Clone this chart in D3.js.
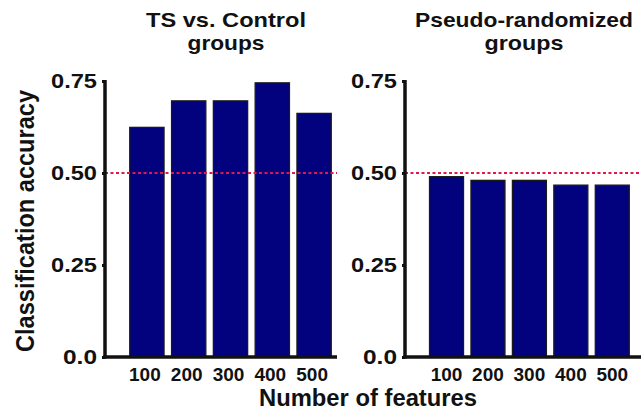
<!DOCTYPE html>
<html><head><meta charset="utf-8">
<script src="https://cdn.jsdelivr.net/npm/d3@7"></script>
<style>body{margin:0;background:#fff}svg{display:block}text{font-family:"Liberation Sans",Arial,sans-serif;font-weight:bold;fill:#111}</style>
</head><body>
<svg id="c" width="641" height="412"></svg>
<script>
const categories = ["100","200","300","400","500"];
const tsControl = [0.624, 0.696, 0.696, 0.745, 0.662];
const pseudo = [0.490, 0.480, 0.480, 0.467, 0.467];
const yTicks = [0, 0.25, 0.5, 0.75];
const yTickLabels = ["0.0","0.25","0.50","0.75"];
const chance = 0.5;
const titles = [["TS vs. Control","groups"],["Pseudo-randomized","groups"]];
const series = [tsControl, pseudo];

const svg = d3.select("#c");
const y = d3.scaleLinear().domain([0,0.75]).range([357,81]);
const panels = [
  {ax:105, xEnd:337, b0:126, b1:335, lineEnd:337, tc:226, tw:[160,77], lx:-2},
  {ax:405, xEnd:641, b0:425.8, b1:633, lineEnd:641, tc:524, tw:[218,79], lx:0}
];
panels.forEach((p,i)=>{
  const g = svg.append("g");
  const x = d3.scaleBand().domain(categories).range([p.b0,p.b1]).paddingInner(0.18).paddingOuter(0.09);
  g.selectAll("rect").data(series[i]).join("rect")
    .attr("x",(d,j)=>x(categories[j])).attr("width",x.bandwidth())
    .attr("y",d=>y(d)).attr("height",d=>y(0)-y(d))
    .attr("fill","#02027e").attr("stroke","#1a1a1a").attr("stroke-width",1.3);
  g.append("line").attr("x1",p.ax).attr("x2",p.lineEnd).attr("y1",y(chance)).attr("y2",y(chance))
    .attr("stroke","#e5164e").attr("stroke-width",2).attr("stroke-dasharray","3,2.5");
  const ya = d3.axisLeft(y).tickValues(yTicks).tickFormat((d,k)=>yTickLabels[k]).tickSize(3).tickPadding(5);
  const yg = g.append("g").attr("transform",`translate(${p.ax},0)`).call(ya);
  yg.select(".domain").remove();
  yg.selectAll(".tick line").attr("stroke","#111").attr("stroke-width",3);
  yg.selectAll(".tick text").style("font-size","20px").attr("fill","#111").attr("dy","0.34em")
    .attr("textLength",(d,k)=>yTickLabels[k].length===3?34:46).attr("lengthAdjust","spacingAndGlyphs");
  g.append("line").attr("x1",p.ax).attr("x2",p.ax).attr("y1",y(0.75)-1).attr("y2",y(0)+1.5).attr("stroke","#111").attr("stroke-width",3.5);
  const xa = d3.axisBottom(x).tickSize(0).tickPadding(11);
  const xg = g.append("g").attr("transform",`translate(0,${y(0)})`).call(xa);
  xg.select(".domain").remove();
  xg.selectAll(".tick text").style("font-size","19px").attr("fill","#111").attr("dx",p.lx).attr("dy","0.68em");
  g.append("line").attr("x1",p.ax-1.75).attr("x2",p.xEnd).attr("y1",y(0)).attr("y2",y(0)).attr("stroke","#111").attr("stroke-width",3.5);
  titles[i].forEach((t,k)=>{
    g.append("text").attr("x",p.tc).attr("y",27+k*23.3).attr("text-anchor","middle").style("font-size","21px")
      .attr("textLength",p.tw[k]).attr("lengthAdjust","spacingAndGlyphs").text(t);
  });
});
svg.append("text").attr("x",368).attr("y",406).attr("text-anchor","middle").style("font-size","23px")
  .attr("textLength",218).attr("lengthAdjust","spacingAndGlyphs").text("Number of features");
svg.append("text").attr("transform","translate(33.5,221) rotate(-90)").attr("text-anchor","middle").style("font-size","25px")
  .attr("textLength",262).attr("lengthAdjust","spacingAndGlyphs").text("Classification accuracy");
</script>
</body></html>
